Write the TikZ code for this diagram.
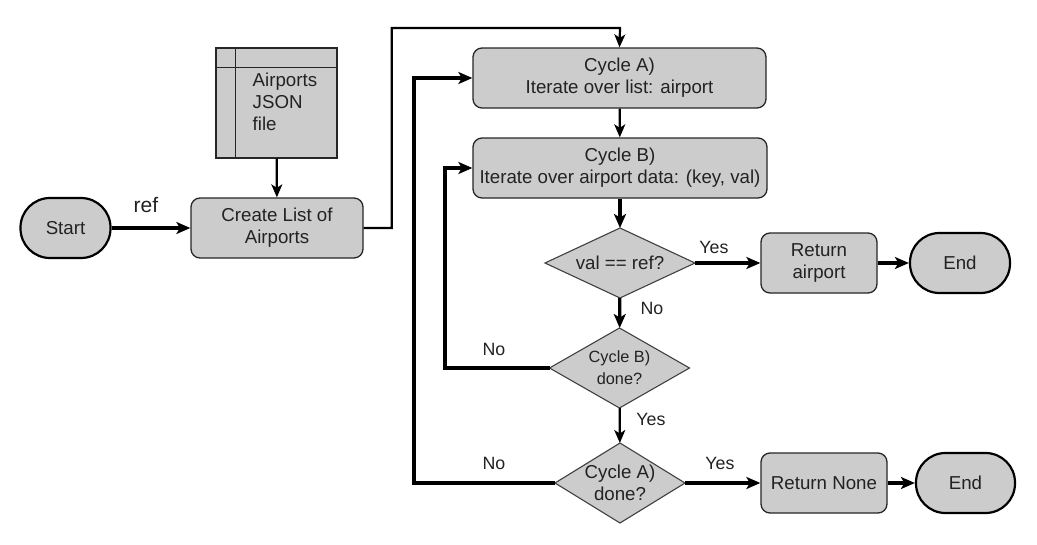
\documentclass[tikz,border=0pt]{standalone}
\usepackage{fontspec}
\setmainfont{Liberation Sans}
\usetikzlibrary{arrows.meta,backgrounds}
\definecolor{boxgray}{HTML}{CCCCCC}
\definecolor{txt}{HTML}{222222}
\newcommand\fsz[1]{\fontsize{#1}{22}\selectfont}
\tikzset{
  box/.style={draw=black!85, fill=boxgray, rounded corners=9pt, line width=1.3pt,
    inner sep=0pt, align=center, text=txt, font=\fsz{18.7}},
  term/.style={draw=black, fill=boxgray, rounded corners=29.5pt, line width=2.2pt,
    inner sep=0pt, align=center, text=txt, font=\fsz{18.7}},
  dec/.style={rectangle, draw=none, inner sep=0pt, outer sep=0pt, align=center, text=txt},
  decshape/.style={draw=black!75, fill=boxgray, line width=1.1pt},
  lbl/.style={inner sep=0pt, text=txt, font=\fsz{17.8}},
  thin arrow/.style={draw=black, line width=2.2pt, -{Stealth[length=13pt, width=11pt, inset=3.5pt]}},
  thick arrow/.style={draw=black, line width=3.2pt, -{Stealth[length=14pt, width=12pt, inset=3.5pt]}},
}
\begin{document}
\begin{tikzpicture}[x=1pt,y=-1pt]
\useasboundingbox (0,0) rectangle (1037,544);

% nodes
\node[term, minimum width=90pt, minimum height=60pt] (start) at (65.5,228) {Start};
\node[box, minimum width=172pt, minimum height=60pt] (create) at (277,228) {Create List of\\Airports};
\node[box, rounded corners=0pt, minimum width=121pt, minimum height=110pt] (json) at (276.5,103) {};
\draw[draw=black!85, line width=1.3pt] ([xshift=20pt]json.north west) -- ([xshift=20pt]json.south west);
\draw[draw=black!85, line width=1.3pt] ([yshift=-20pt]json.north west) -- ([yshift=-20pt]json.north east);
\node[lbl, anchor=west, align=left, font=\fsz{18.7}] (jsontext) at (252.5,102) {Airports\\JSON\\file};

\node[box, minimum width=293pt, minimum height=60pt] (cycA) at (619.5,78) {Cycle A)\\Iterate over list: airport};
\node[box, minimum width=294pt, minimum height=60pt] (cycB) at (620,168) {Cycle B)\\Iterate over airport data: (key, val)};

\node[dec, minimum width=150pt, minimum height=70pt, font=\fsz{18.7}] (d1) at (620,263) {val == ref?};
\node[dec, minimum width=140pt, minimum height=80pt, font=\fsz{16.3}] (d2) at (619.5,368) {Cycle B)\\done?};
\node[dec, minimum width=130pt, minimum height=80pt, font=\fsz{18.7}] (d3) at (620,483) {Cycle A)\\done?};

\node[box, minimum width=116pt, minimum height=60pt] (retA) at (819,263) {Return\\airport};
\node[term, minimum width=100pt, minimum height=60pt] (end1) at (960,263) {End};
\node[box, minimum width=126pt, minimum height=60pt] (retN) at (824,483) {Return None};
\node[term, minimum width=99pt, minimum height=60pt] (end2) at (965.5,483) {End};

\begin{scope}[on background layer]
  \foreach \d in {d1,d2,d3}
    \path[decshape] (\d.north) -- (\d.east) -- (\d.south) -- (\d.west) -- cycle;
\end{scope}

% connectors
\draw[thick arrow] (start) -- (create);
\draw[thin arrow] (json) -- (create);
\coordinate (topA) at (620,28);
\draw[thin arrow] (create.east) -- ++(28,0) |- (topA) -- (cycA.north);
\draw[thin arrow] (cycA) -- (cycB);
\draw[thick arrow] (cycB) -- (d1);
\draw[thick arrow] (d1) -- (retA);
\draw[thick arrow] (retA) -- (end1);
\draw[thick arrow] (d1) -- (d2);
\coordinate (loopB) at (445,368);
\draw[thick arrow] (d2.west) -- (loopB) |- (cycB.west);
\draw[thin arrow] (d2) -- (d3);
\coordinate (loopA) at (414,483);
\draw[thick arrow] (d3.west) -- (loopA) |- (cycA.west);
\draw[thick arrow] (d3) -- (retN);
\draw[thick arrow] (retN) -- (end2);

% labels
\node[lbl, font=\fsz{21}] (lref) at (146,205) {ref};
\node[lbl] (lyes1) at (714,247) {Yes};
\node[lbl] (lno1) at (652,308) {No};
\node[lbl] (lno2) at (494,349) {No};
\node[lbl] (lyes2) at (651,419) {Yes};
\node[lbl] (lno3) at (494,463) {No};
\node[lbl] (lyes3) at (720,463) {Yes};
\end{tikzpicture}
\end{document}
